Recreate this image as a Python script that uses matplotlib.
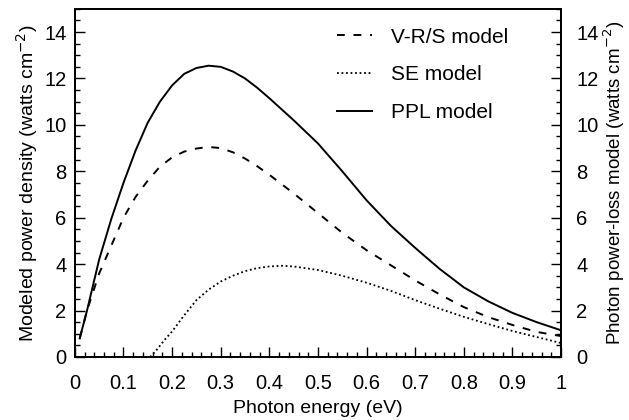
import matplotlib
matplotlib.use("Agg")
import matplotlib.pyplot as plt
from matplotlib.ticker import MultipleLocator

plt.rcParams['font.family'] = ['Liberation Sans', 'DejaVu Sans']

# photon energy (eV) and modeled power density (watts cm^-2)
ppl_x = [0.01, 0.025, 0.05, 0.075, 0.1, 0.125, 0.15, 0.175, 0.2, 0.225, 0.25, 0.275,
         0.3, 0.325, 0.35, 0.375, 0.4, 0.45, 0.5, 0.55, 0.6, 0.65, 0.7, 0.75, 0.8,
         0.85, 0.9, 0.95, 1.0]
ppl_y = [0.8, 2.0, 4.2, 5.95, 7.5, 8.9, 10.1, 11.0, 11.7, 12.2, 12.45, 12.55,
         12.5, 12.3, 12.0, 11.6, 11.15, 10.2, 9.2, 8.0, 6.75, 5.65, 4.7, 3.8, 3.0,
         2.4, 1.9, 1.5, 1.15]

vrs_x = [0.01, 0.025, 0.05, 0.075, 0.1, 0.125, 0.15, 0.175, 0.2, 0.225, 0.25, 0.275,
         0.3, 0.325, 0.35, 0.375, 0.4, 0.45, 0.5, 0.55, 0.6, 0.65, 0.7, 0.75, 0.8,
         0.85, 0.9, 0.95, 1.0]
vrs_y = [0.8, 2.0, 3.6, 4.8, 6.0, 6.9, 7.6, 8.2, 8.6, 8.85, 8.98, 9.05,
         9.0, 8.82, 8.55, 8.22, 7.85, 7.05, 6.2, 5.35, 4.6, 3.95, 3.3, 2.7, 2.15,
         1.72, 1.38, 1.08, 0.9]

se_x = [0.155, 0.17, 0.185, 0.2, 0.225, 0.25, 0.275, 0.3, 0.325, 0.35, 0.375, 0.4,
        0.425, 0.45, 0.5, 0.55, 0.6, 0.65, 0.7, 0.75, 0.8, 0.85, 0.9, 0.95, 1.0]
se_y = [0.0, 0.35, 0.75, 1.1, 1.8, 2.45, 2.9, 3.25, 3.5, 3.7, 3.83, 3.9,
        3.93, 3.9, 3.75, 3.5, 3.2, 2.85, 2.45, 2.08, 1.73, 1.42, 1.12, 0.86, 0.6]

fig = plt.figure(figsize=(6.29, 4.2), dpi=100)
ax = fig.add_axes([0.119, 0.15, 0.773, 0.829])

ax.plot(vrs_x, vrs_y, color='black', lw=1.4, linestyle=(0, (4, 4.5)), label='V-R/S model')
ax.plot(se_x, se_y, color='black', lw=1.3, linestyle=(0, (1, 1.5)), label='SE model')
ax.plot(ppl_x, ppl_y, color='black', lw=1.4, label='PPL model')

ax.set_xlim(0, 1)
ax.set_ylim(0, 15)
ax.set_xticks([0, 0.1, 0.2, 0.3, 0.4, 0.5, 0.6, 0.7, 0.8, 0.9, 1])
ax.set_xticklabels(['0', '0.1', '0.2', '0.3', '0.4', '0.5', '0.6', '0.7', '0.8', '0.9', '1'])
ax.set_yticks([0, 2, 4, 6, 8, 10, 12, 14])
ax.xaxis.set_minor_locator(MultipleLocator(0.02))
ax.yaxis.set_minor_locator(MultipleLocator(0.5))
ax.tick_params(which='both', direction='in', labelsize=14.5, width=1)
ax.tick_params(which='major', length=7)
ax.tick_params(which='minor', length=3.5)
ax.tick_params(axis='x', which='major', pad=12)
ax.tick_params(axis='y', which='major', pad=6)
ax.set_xlabel('Photon energy (eV)', fontsize=14, labelpad=5)
ax.set_ylabel('Modeled power density (watts cm$^{-2}$)', fontsize=14, labelpad=3)

ax2 = ax.twinx()
ax2.set_ylim(0, 15)
ax2.set_yticks([0, 2, 4, 6, 8, 10, 12, 14])
ax2.yaxis.set_minor_locator(MultipleLocator(0.5))
ax2.tick_params(which='both', direction='in', labelsize=14.5, width=1)
ax2.tick_params(which='major', length=7, pad=11)
ax2.tick_params(which='minor', length=3.5)
ax2.set_ylabel('Photon power-loss model (watts cm$^{-2}$)', fontsize=13.5, labelpad=2)

for a in (ax, ax2):
    for s in a.spines.values():
        s.set_linewidth(1.3)

ax.legend(loc='upper right', frameon=False, fontsize=15, handlelength=1.7,
          handletextpad=0.9, labelspacing=0.9, bbox_to_anchor=(0.93, 1.0))

fig.savefig('out.png', dpi=100)
